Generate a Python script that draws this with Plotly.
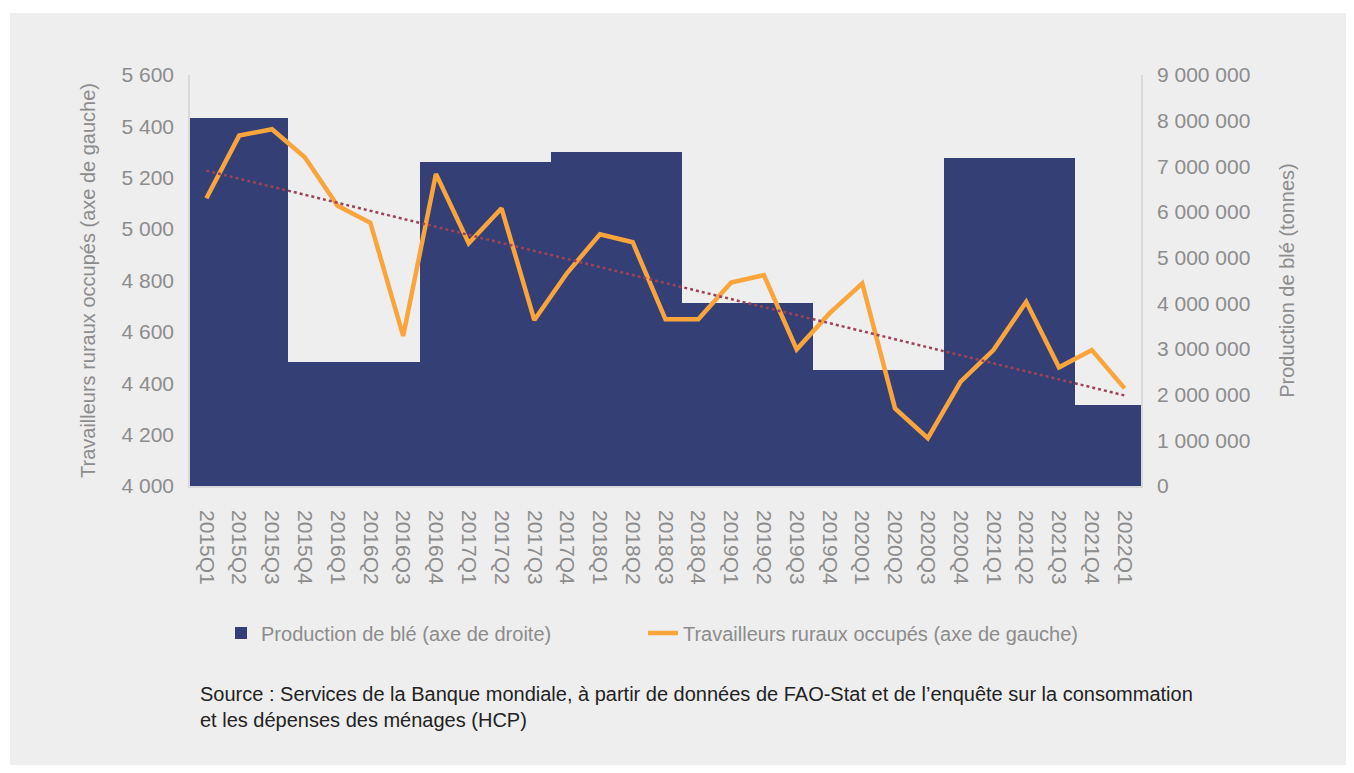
import numpy as np
import plotly.graph_objects as go

quarters = ['2015Q1', '2015Q2', '2015Q3', '2015Q4', '2016Q1', '2016Q2', '2016Q3', '2016Q4',
            '2017Q1', '2017Q2', '2017Q3', '2017Q4', '2018Q1', '2018Q2', '2018Q3', '2018Q4',
            '2019Q1', '2019Q2', '2019Q3', '2019Q4', '2020Q1', '2020Q2', '2020Q3', '2020Q4',
            '2021Q1', '2021Q2', '2021Q3', '2021Q4', '2022Q1']

# production de blé (tonnes), axe de droite
production = [8060000, 8060000, 8060000,
              2720000, 2720000, 2720000, 2720000,
              7090000, 7090000, 7090000, 7090000,
              7310000, 7310000, 7310000, 7310000,
              4010000, 4010000, 4010000, 4010000,
              2550000, 2550000, 2550000, 2550000,
              7180000, 7180000, 7180000, 7180000,
              1770000, 1770000]

# travailleurs ruraux occupés (milliers), axe de gauche
travailleurs = [5120, 5364, 5389, 5280, 5091, 5025, 4584, 5215,
                4945, 5081, 4646, 4829, 4980, 4949, 4649, 4649,
                4792, 4821, 4532, 4672, 4789, 4302, 4186, 4406,
                4529, 4717, 4462, 4529, 4380]

# tendance linéaire (comme dans Excel)
idx = np.arange(len(travailleurs))
pente, origine = np.polyfit(idx, travailleurs, 1)
tendance = pente * idx + origine

grey_txt = '#8c8c8c'
axis_col = '#d9d9d9'
font_family = 'Liberation Sans, Arial, sans-serif'

fig = go.Figure()
fig.add_trace(go.Bar(x=quarters, y=production, name='Production de blé (axe de droite)',
                     marker=dict(color='#343f76', line=dict(width=0)), yaxis='y', legend='legend'))
fig.add_trace(go.Scatter(x=quarters, y=travailleurs, name='Travailleurs ruraux occupés (axe de gauche)',
                         mode='lines', line=dict(color='#f9a53c', width=4.5), yaxis='y2', legend='legend2'))
fig.add_trace(go.Scatter(x=quarters, y=tendance, mode='lines', showlegend=False,
                         line=dict(color='#9b4457', width=2.5, dash='dot'), yaxis='y2'))

# panneau gris derrière le graphique
fig.add_shape(type='rect', xref='paper', yref='paper', x0=-0.1893, x1=1.266, y0=-0.72, y1=1.151,
              fillcolor='#eeeeee', line=dict(width=0), layer='below')

fig.add_annotation(xref='paper', yref='paper', x=0.0084, y=-0.537, xanchor='left', yanchor='middle',
                   align='left', showarrow=False,
                   text='Source : Services de la Banque mondiale, à partir de données de FAO-Stat et de l’enquête sur la consommation<br>et les dépenses des ménages (HCP)',
                   font=dict(size=20, color='#222222', family=font_family))

leg = dict(orientation='h', y=-0.3577, xanchor='left', yanchor='middle',
           bgcolor='rgba(0,0,0,0)', font=dict(size=20, color=grey_txt), itemwidth=30)

fig.update_layout(
    width=1338, height=757,
    margin=dict(l=182, r=205, t=67, b=279),
    paper_bgcolor='white',
    plot_bgcolor='rgba(0,0,0,0)',
    separators=', ',
    bargap=0,
    font=dict(family=font_family, color=grey_txt),
    xaxis=dict(type='category', tickangle=90, showgrid=False, showline=True, linecolor=axis_col,
               linewidth=1.5, ticks='outside', tickcolor='rgba(0,0,0,0)', ticklen=18,
               tickfont=dict(size=21, color=grey_txt)),
    yaxis=dict(side='right', range=[0, 9000000], dtick=1000000, tickformat=',d', showgrid=False,
               zeroline=False, showline=True, linecolor=axis_col, linewidth=1.5,
               ticks='outside', tickcolor='rgba(0,0,0,0)', ticklen=10,
               tickfont=dict(size=21, color=grey_txt),
               title=dict(text='Production de blé (tonnes)', font=dict(size=20, color=grey_txt), standoff=31)),
    yaxis2=dict(side='left', overlaying='y', range=[4000, 5600], dtick=200, tickformat=',d', showgrid=False,
                zeroline=False, showline=True, linecolor=axis_col, linewidth=1.5,
                ticks='outside', tickcolor='rgba(0,0,0,0)', ticklen=10,
                tickfont=dict(size=21, color=grey_txt),
                title=dict(text='Travailleurs ruraux occupés (axe de gauche)', font=dict(size=20, color=grey_txt), standoff=20)),
    legend=dict(leg, x=0.0326),
    legend2=dict(leg, x=0.4763),
)

fig.write_html('out.html')
